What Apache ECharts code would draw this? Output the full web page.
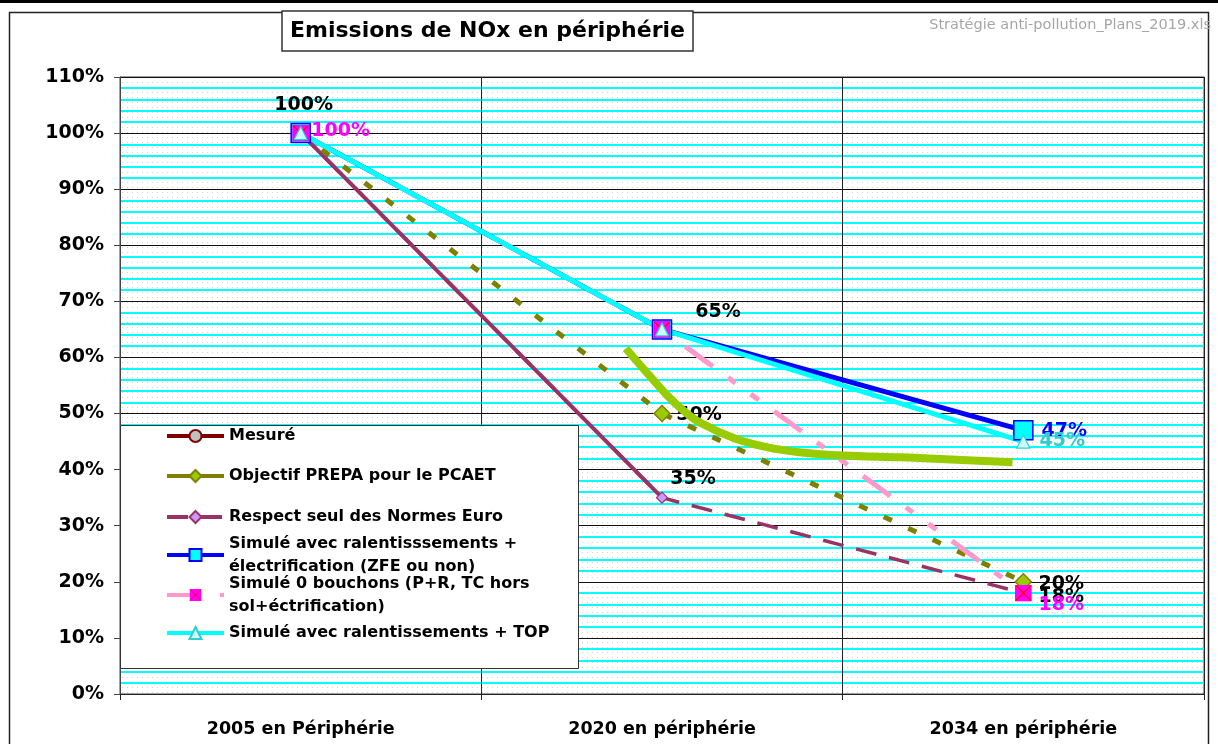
<!DOCTYPE html>
<html>
<head>
<meta charset="utf-8">
<script src="https://cdn.jsdelivr.net/npm/echarts@6/dist/echarts.min.js"></script>
<style>
  html, body { margin: 0; padding: 0; background: #fff; }
  #chart { width: 1218px; height: 744px; }
</style>
</head>
<body>
<div id="chart"></div>
<script>
// data (values in %)
const categories = ["2005 en Périphérie", "2020 en périphérie", "2034 en périphérie"];
const mesure = [100, 65, null];
const objectifPrepa = [100, 50, 20];
const normesEuro = [100, 35, 18];
const simuleElec = [100, 65, 47];
const zeroBouchons = [100, 65, 18];
const simuleTop = [100, 65, 45];
// hand drawn trend curve (x in category index units)
const courbeX = [0.9, 0.97, 1.015, 1.06, 1.105, 1.2, 1.29, 1.38, 1.5, 1.66, 1.74, 1.97];
const courbeY = [61.6, 56.4, 53.2, 50.5, 48.4, 45.6, 44.0, 43.1, 42.5, 42.2, 42.0, 41.3];

const seriesNames = [
  "Mesuré",
  "Objectif PREPA pour le PCAET",
  "Respect seul des Normes Euro",
  "Simulé avec ralentisssements + électrification (ZFE ou non)",
  "Simulé 0 bouchons (P+R, TC hors sol+éctrification)",
  "Simulé avec ralentissements + TOP"
];
const legendText = [
  "Mesuré",
  "Objectif PREPA pour le PCAET",
  "Respect seul des Normes Euro",
  "Simulé avec ralentisssements +\nélectrification (ZFE ou non)",
  "Simulé 0 bouchons (P+R, TC hors\nsol+éctrification)",
  "Simulé avec ralentissements + TOP"
];

const FONT = "DejaVu Sans";

// dotted plot background
const dots = document.createElement("canvas");
dots.width = 5;
dots.height = 5;
const dctx = dots.getContext("2d");
dctx.fillStyle = "#ffffff";
dctx.fillRect(0, 0, 5, 5);
dctx.fillStyle = "#d4d4d4";
dctx.fillRect(2, 2, 1, 1);

const pinkSvg = "<svg xmlns='http://www.w3.org/2000/svg' width='18' height='18'>" +
  "<rect x='0' y='0' width='18' height='18' fill='#FF00FF'/>" +
  "<path d='M1 1L17 17M17 1L1 17' stroke='#FF0000' stroke-width='1.4'/></svg>";
const pinkSymbol = "image://data:image/svg+xml;charset=utf-8," + encodeURIComponent(pinkSvg);

function lbl(dx, dy, color) {
  return {
    show: true,
    position: "inside",
    offset: [dx, dy],
    color: color,
    fontFamily: FONT,
    fontWeight: "bold",
    fontSize: 19,
    formatter: (p) => Math.round(p.value) + "%"
  };
}

function withLabels(values, labels) {
  return values.map((v, i) => (labels[i] ? { value: v, label: labels[i] } : v));
}

const chart = echarts.init(document.getElementById("chart"));

const legendCenters = [436, 476, 517, 555, 595, 633];

const option = {
  animation: false,
  backgroundColor: "#fff",
  title: [
    {
      text: "Emissions de NOx en périphérie",
      left: 282,
      top: 11,
      padding: [7, 8],
      borderColor: "#333",
      borderWidth: 1.5,
      backgroundColor: "#fff",
      textStyle: { fontFamily: FONT, fontWeight: "bold", fontSize: 22, lineHeight: 26, color: "#000" }
    },
    {
      text: "Stratégie anti-pollution_Plans_2019.xls",
      right: 7,
      top: 18,
      padding: 0,
      textStyle: { fontFamily: FONT, fontWeight: "normal", fontSize: 14.5, color: "#a6a6a6" }
    }
  ],
  graphic: [
    { type: "rect", left: 0, top: 0, shape: { width: 1218, height: 3 }, style: { fill: "#000" }, z: 0 },
    {
      type: "rect", left: 7, top: 10, shape: { width: 1199, height: 760 },
      style: { fill: null, stroke: "#222", lineWidth: 1.5 }, z: 0
    },
    {
      type: "rect", left: 120, top: 425, shape: { width: 458, height: 243 },
      style: { fill: "#fff", stroke: "#333", lineWidth: 1 }, z: 3
    }
  ],
  legend: seriesNames.map((name, i) => {
    const twoLines = legendText[i].indexOf("\n") >= 0;
    const item = { name: name };
    if (i === 1) item.lineStyle = { type: "solid" };
    return {
      data: [item],
      orient: "vertical",
      left: 165,
      top: legendCenters[i] - (twoLines ? 34.5 : 11.5),
      padding: 0,
      itemWidth: 57,
      itemHeight: 15,
      z: 4,
      lineStyle: { width: 4 },
      formatter: () => legendText[i],
      textStyle: {
        fontFamily: FONT, fontWeight: "bold", fontSize: 16, color: "#000",
        lineHeight: 23, padding: twoLines ? [23, 0, 0, 0] : 0
      }
    };
  }),
  grid: {
    left: 120,
    right: 14,
    top: 77,
    bottom: 50,
    show: true,
    backgroundColor: { image: dots, repeat: "repeat" },
    borderColor: "#444",
    borderWidth: 1
  },
  xAxis: [
    {
      type: "category",
      data: categories,
      boundaryGap: true,
      axisLine: { onZero: false, lineStyle: { color: "#222", width: 1 } },
      axisTick: { show: true, length: 6, lineStyle: { color: "#222" } },
      splitLine: { show: true, lineStyle: { color: "#222", width: 1 } },
      axisLabel: { margin: 26, color: "#000", fontFamily: FONT, fontWeight: "bold", fontSize: 17.5 }
    },
    { type: "value", min: -0.5, max: 2.5, show: false }
  ],
  yAxis: {
    type: "value",
    min: 0,
    max: 110,
    interval: 10,
    axisLine: { show: true, onZero: false, lineStyle: { color: "#444", width: 1 } },
    axisTick: { show: true, length: 6, lineStyle: { color: "#444" } },
    axisLabel: {
      margin: 16, color: "#000", fontFamily: FONT, fontWeight: "bold", fontSize: 19,
      formatter: "{value}%"
    },
    splitLine: { show: true, lineStyle: { color: "#111", width: 1 } },
    minorTick: { show: false, splitNumber: 5 },
    minorSplitLine: { show: true, lineStyle: { color: "#00FFFF", width: 2 } }
  },
  series: [
    {
      name: seriesNames[0],
      type: "line",
      data: withLabels(mesure, { 0: lbl(3, -28, "#000"), 1: lbl(56, -17, "#000") }),
      symbol: "circle",
      symbolSize: 12,
      lineStyle: { color: "#800000", width: 4 },
      itemStyle: { color: "#C0C0C0", borderColor: "#800000", borderWidth: 1.5 }
    },
    {
      name: seriesNames[1],
      type: "line",
      data: withLabels(objectifPrepa, { 1: lbl(37, 2, "#000"), 2: lbl(38, 2, "#000") }),
      symbol: "diamond",
      symbolSize: 16,
      lineStyle: { color: "#808000", width: 5, type: [9, 18] },
      itemStyle: { color: "#99CC00", borderColor: "#808000", borderWidth: 1.5 }
    },
    {
      name: seriesNames[2],
      type: "line",
      data: withLabels(normesEuro, { 1: lbl(31, -19, "#000"), 2: lbl(38, 4, "#000") }),
      symbol: "diamond",
      symbolSize: 11,
      lineStyle: { color: "#993366", width: 3.5, type: [21, 13] },
      itemStyle: { color: "#CC99FF", borderColor: "#993366", borderWidth: 1.2 }
    },
    {
      // first segment of the Euro norms line is drawn solid
      name: seriesNames[2],
      type: "line",
      z: 1,
      data: normesEuro.slice(0, 2),
      symbol: "none",
      lineStyle: { color: "#993366", width: 4 }
    },
    {
      name: seriesNames[3],
      type: "line",
      data: withLabels(simuleElec, { 2: lbl(41, 1, "#0000FF") }),
      symbol: "rect",
      symbolSize: 19,
      lineStyle: { color: "#0000FF", width: 5 },
      itemStyle: { color: "#00FFFF", borderColor: "#0000FF", borderWidth: 1.5 }
    },
    {
      name: seriesNames[4],
      type: "line",
      data: withLabels(zeroBouchons, { 0: lbl(40, -2, "#FF00FF"), 2: lbl(38, 12, "#FF00FF") }),
      symbol: pinkSymbol,
      symbolSize: 17,
      lineStyle: { color: "#FF99CC", width: 5, type: [34, 19, 9, 19, 10, 19] },
      itemStyle: { color: "#FF00FF" }
    },
    {
      name: seriesNames[5],
      type: "line",
      data: withLabels(simuleTop, { 2: lbl(39, -1, "#33CCCC") }),
      symbol: "triangle",
      symbolSize: 13,
      lineStyle: { color: "#00FFFF", width: 5 },
      itemStyle: { color: "#CCFFFF", borderColor: "#33CCCC", borderWidth: 1.2 }
    },
    {
      name: "courbe",
      type: "line",
      xAxisIndex: 1,
      z: 10,
      smooth: 0.4,
      symbol: "none",
      data: courbeX.map((x, i) => [x, courbeY[i]]),
      lineStyle: { color: "#99CC00", width: 8, cap: "butt" }
    }
  ]
};

chart.setOption(option);
</script>
</body>
</html>
